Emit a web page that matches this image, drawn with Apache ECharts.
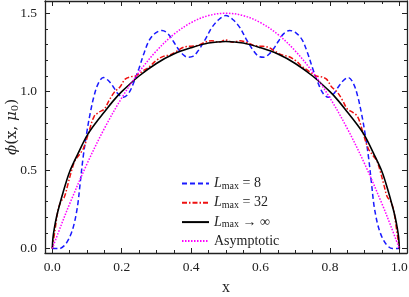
<!DOCTYPE html>
<html><head><meta charset="utf-8">
<script src="https://cdn.jsdelivr.net/npm/echarts@6/dist/echarts.min.js"></script>
<style>html,body{margin:0;padding:0;background:#fff}#c{width:409px;height:297px}</style>
</head><body><div id="c"></div>
<script>
// ---- data ----
const xTicks = [0, 0.2, 0.4, 0.6, 0.8, 1.0];
const xMinor = [0.05,0.1,0.15,0.25,0.3,0.35,0.45,0.5,0.55,0.65,0.7,0.75,0.85,0.9,0.95];
const yTicks = [0, 0.5, 1.0, 1.5];
const yMinor = [0.1,0.2,0.3,0.4,0.6,0.7,0.8,0.9,1.1,1.2,1.3,1.4];

const blueX = [0,0.02,0.035,0.046,0.055,0.062,0.068,0.074,0.08,0.089,0.099,0.109,0.12,0.132,0.147,0.162,0.176,0.19,0.205,0.22,0.235,0.25,0.265,0.28,0.298,0.316,0.333,0.349,0.362,0.375,0.39,0.405,0.42,0.44,0.46,0.48,
  0.5,
  0.52,0.54,0.56,0.58,0.595,0.61,0.625,0.638,0.651,0.667,0.684,0.702,0.72,0.735,0.75,0.765,0.78,0.795,0.81,0.824,0.838,0.853,0.868,0.88,0.891,0.901,0.911,0.92,0.926,0.932,0.938,0.945,0.954,0.965,0.98,1];
const blueY = [0,0,0.02,0.055,0.10,0.15,0.21,0.29,0.41,0.585,0.735,0.86,0.97,1.05,1.09,1.07,1.03,0.985,0.965,0.99,1.06,1.15,1.25,1.33,1.375,1.39,1.37,1.32,1.275,1.24,1.22,1.225,1.26,1.33,1.41,1.46,
  1.485,
  1.46,1.41,1.33,1.26,1.225,1.22,1.24,1.275,1.32,1.37,1.39,1.375,1.33,1.25,1.15,1.06,0.99,0.965,0.985,1.03,1.07,1.09,1.05,0.97,0.86,0.735,0.585,0.41,0.29,0.21,0.15,0.10,0.055,0.02,0,0];

const redX = [0,0.008,0.017,0.025,0.035,0.045,0.056,0.065,0.075,0.09,0.105,0.12,0.135,0.15,0.165,0.18,0.195,0.21,0.225,0.24,0.26,0.28,0.30,0.32,0.34,0.36,0.38,0.40,0.42,0.44,0.46,0.48,
  0.5,
  0.52,0.54,0.56,0.58,0.60,0.62,0.64,0.66,0.68,0.70,0.72,0.74,0.76,0.775,0.79,0.805,0.82,0.835,0.85,0.865,0.88,0.895,0.91,0.925,0.935,0.944,0.955,0.965,0.975,0.983,0.992,1];
const redY = [0,0.12,0.25,0.30,0.33,0.41,0.50,0.56,0.59,0.64,0.74,0.84,0.87,0.89,0.95,1.00,1.03,1.08,1.095,1.10,1.13,1.16,1.20,1.225,1.235,1.26,1.285,1.29,1.295,1.315,1.325,1.315,
  1.33,
  1.315,1.325,1.315,1.295,1.29,1.285,1.26,1.235,1.225,1.20,1.16,1.13,1.10,1.095,1.08,1.03,1.00,0.95,0.89,0.87,0.84,0.74,0.64,0.59,0.56,0.50,0.41,0.33,0.30,0.25,0.12,0];

const blackX = [0,0.002,0.006,0.012,0.02,0.03,0.05,0.075,0.1,0.125,0.15,0.175,0.2,0.25,0.3,0.35,0.4,0.45,
  0.5,
  0.55,0.6,0.65,0.7,0.75,0.8,0.825,0.85,0.875,0.9,0.925,0.95,0.97,0.98,0.988,0.994,0.998,1];
const blackY = [0,0.07,0.13,0.20,0.27,0.35,0.49,0.61,0.72,0.80,0.87,0.94,1.00,1.10,1.18,1.24,1.28,1.31,
  1.32,
  1.31,1.28,1.24,1.18,1.10,1.00,0.94,0.87,0.80,0.72,0.61,0.49,0.35,0.27,0.20,0.13,0.07,0];

const magX = [0,0.025,0.05,0.1,0.15,0.2,0.25,0.3,0.35,0.4,0.45,0.5,0.55,0.6,0.65,0.7,0.75,0.8,0.85,0.9,0.95,0.975,1];
const magY = [0,0.146,0.285,0.54,0.765,0.96,1.125,1.26,1.365,1.44,1.485,1.5,1.485,1.44,1.365,1.26,1.125,0.96,0.765,0.54,0.285,0.146,0];

const names = ['L8','L32','Linf','Asym'];
const labels = {
  L8: '{i|L}{s|max}{t| = 8}',
  L32: '{i|L}{s|max}{t| = 32}',
  Linf: '{i|L}{s|max}{t| → ∞}',
  Asym: '{t|Asymptotic}'
};

// ---- chart ----
const FONT = '"Liberation Serif", "DejaVu Serif", serif';
const NFONT = '"DejaVu Serif", "Liberation Serif", serif';
const XMIN = -0.021, XMAX = 1.022, YMIN = -0.028, YMAX = 1.578;
const frame = {show:true, onZero:false, lineStyle:{color:'#222', width:1.3}};
function pairs(xs, ys){ return xs.map((x,i)=>[x, ys[i]]); }
function xAx(pos, vals, len, labels, extra){
  return Object.assign({type:'value', gridIndex:0, position:pos, min:XMIN, max:XMAX,
    axisLine: labels===null ? {show:false, onZero:false} : frame,
    splitLine:{show:false},
    axisTick:{show:true, inside:true, length:len, customValues:vals, lineStyle:{color:'#222', width:1}},
    axisLabel: labels ? {show:true, customValues:vals, formatter:v=>v.toFixed(1), fontFamily:FONT, fontSize:13.5, color:'#222', margin:7} : {show:false}
  }, extra||{});
}
function yAx(pos, vals, len, labels, extra){
  return Object.assign({type:'value', gridIndex:0, position:pos, min:YMIN, max:YMAX,
    axisLine: labels===null ? {show:false, onZero:false} : frame,
    splitLine:{show:false},
    axisTick:{show:true, inside:true, length:len, customValues:vals, lineStyle:{color:'#222', width:1}},
    axisLabel: labels ? {show:true, customValues:vals, formatter:v=>v.toFixed(1), fontFamily:FONT, fontSize:13.5, color:'#222', margin:8} : {show:false}
  }, extra||{});
}
const chart = echarts.init(document.getElementById('c'), null, {renderer:'canvas'});
const common = {type:'line', showSymbol:false, symbol:'none', smooth:0.35, xAxisIndex:0, yAxisIndex:0, animation:false};
chart.setOption({
  animation:false,
  grid:{left:45, right:2, top:1, bottom:44, containLabel:false, outerBoundsMode:'none'},
  xAxis:[
    xAx('bottom', xTicks, 5, true, {name:'x', nameLocation:'middle', nameGap:27, nameMoveOverlap:false, nameTextStyle:{fontFamily:FONT, fontSize:16, color:'#222'}}),
    xAx('bottom', xMinor, 3, null),
    xAx('top', xTicks, 5, false),
    xAx('top', xMinor, 3, null)
  ],
  yAxis:[
    yAx('left', yTicks, 5, true, {name:'{i|ϕ}{t|(x, }{i|μ}{s|0}{t|)}', nameLocation:'middle', nameGap:25, nameRotate:90, nameMoveOverlap:false,
      nameTextStyle:{fontFamily:NFONT, fontSize:15, color:'#222', rich:{
        i:{fontFamily:NFONT, fontStyle:'italic', fontSize:15, color:'#222', lineHeight:16, verticalAlign:'middle'},
        t:{fontFamily:NFONT, fontSize:15, color:'#222', lineHeight:16, verticalAlign:'middle'},
        s:{fontFamily:NFONT, fontSize:10, color:'#222', lineHeight:10, padding:[7,0,0,0], verticalAlign:'middle'}
      }}}),
    yAx('left', yMinor, 3, null),
    yAx('right', yTicks, 5, false),
    yAx('right', yMinor, 3, null)
  ],
  legend:{
    show:true, orient:'vertical', left:176, top:171, itemWidth:27, itemHeight:14, itemGap:4.3,
    data:names, formatter:n=>labels[n],
    itemStyle:{opacity:0},
    textStyle:{fontFamily:FONT, fontSize:14, color:'#222', rich:{
      i:{fontFamily:FONT, fontStyle:'italic', fontSize:14, color:'#222', lineHeight:15, verticalAlign:'middle'},
      t:{fontFamily:FONT, fontSize:14, color:'#222', lineHeight:15, verticalAlign:'middle'},
      s:{fontFamily:FONT, fontSize:10, color:'#222', lineHeight:10, padding:[5,0,0,0], verticalAlign:'middle'}
    }}
  },
  series:[
    Object.assign({}, common, {name:'L8', data:pairs(blueX, blueY), lineStyle:{color:'#1a1aff', width:1.5, type:[5,3]}, itemStyle:{color:'#1a1aff'}}),
    Object.assign({}, common, {name:'L32', data:pairs(redX, redY), lineStyle:{color:'#ee1111', width:1.5, type:[5,2,1.5,2]}, itemStyle:{color:'#ee1111'}}),
    Object.assign({}, common, {name:'Linf', data:pairs(blackX, blackY), lineStyle:{color:'#000', width:1.6, type:'solid'}, itemStyle:{color:'#000'}}),
    Object.assign({}, common, {name:'Asym', data:pairs(magX, magY), lineStyle:{color:'#ff00ff', width:1.5, type:[1.5,1.5]}, itemStyle:{color:'#ff00ff'}})
  ]
});
</script></body></html>
